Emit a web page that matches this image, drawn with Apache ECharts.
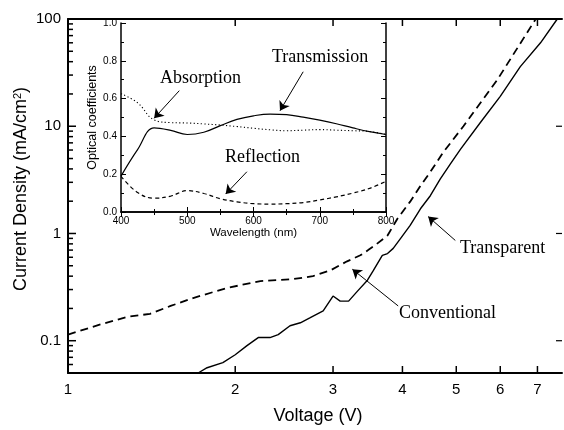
<!DOCTYPE html>
<html>
<head>
<meta charset="utf-8">
<script src="https://cdn.jsdelivr.net/npm/echarts@6/dist/echarts.min.js"></script>
<style>
  html, body { margin: 0; padding: 0; background: #fff; }
  #chart { width: 564px; height: 430px; }
</style>
</head>
<body>
<div id="chart"></div>
<script>
// main plot: J-V of the two devices (log-log)
var transparentV = [1.715, 1.78, 1.90, 2.0, 2.1, 2.2, 2.31, 2.39, 2.51, 2.62, 2.73, 2.88, 3.0, 3.09, 3.2, 3.32, 3.46, 3.54, 3.68, 3.76, 3.85, 3.97, 4.13, 4.31, 4.49, 4.68, 4.88, 5.09, 5.53, 6.0, 6.52, 7.09, 7.6];
var transparentJ = [0.05, 0.056, 0.0625, 0.074, 0.09, 0.107, 0.107, 0.114, 0.138, 0.147, 0.164, 0.19, 0.261, 0.234, 0.234, 0.29, 0.367, 0.445, 0.626, 0.65, 0.726, 0.90, 1.19, 1.70, 2.25, 3.23, 4.45, 6.12, 10.9, 19, 36, 60, 100];
var conventionalV = [1.0, 1.14, 1.28, 1.405, 1.53, 1.68, 1.93, 2.22, 2.54, 2.76, 2.97, 3.18, 3.36, 3.47, 3.57, 3.76, 3.92, 4.13, 4.31, 4.49, 4.74, 5.15, 5.93, 6.95];
var conventionalJ = [0.114, 0.141, 0.167, 0.178, 0.211, 0.25, 0.31, 0.36, 0.375, 0.40, 0.454, 0.55, 0.626, 0.70, 0.775, 0.958, 1.38, 1.98, 2.78, 3.75, 5.74, 10, 27.2, 100];

var xTickValues = [1, 2, 3, 4, 5, 6, 7];
var yMajorValues = [0.1, 1, 10, 100];
var yMajorLabels = ['0.1', '1', '10', '100'];

// inset: optical coefficients of the transparent device
var wavelength = [400, 425, 450, 475, 500, 525, 550, 575, 600, 625, 650, 675, 700, 725, 750, 775, 800];
var transmission = [0.19, 0.33, 0.445, 0.432, 0.41, 0.422, 0.457, 0.49, 0.509, 0.518, 0.515, 0.502, 0.486, 0.467, 0.445, 0.425, 0.41];
var absorption = [0.626, 0.578, 0.487, 0.473, 0.471, 0.466, 0.46, 0.452, 0.443, 0.435, 0.43, 0.433, 0.436, 0.433, 0.43, 0.426, 0.41];
var reflection = [0.189, 0.103, 0.073, 0.084, 0.113, 0.098, 0.07, 0.054, 0.044, 0.042, 0.044, 0.05, 0.064, 0.08, 0.1, 0.125, 0.162];

var V_MIN = 1, V_MAX = 7.75, J_MIN = 0.05, J_MAX = 100;

function zip(a, b) {
  return a.map(function (v, i) { return [v, b[i]]; });
}

// minor ticks of the log J axis: 2..9 in every decade
var yMinorValues = [];
[0.01, 0.1, 1, 10].forEach(function (d) {
  for (var k = 2; k <= 9; k++) {
    var v = k * d;
    if (v >= J_MIN - 1e-9 && v <= J_MAX) yMinorValues.push(v);
  }
});

function tickLine(x1, y1, x2, y2, w) {
  return { type: 'line', shape: { x1: x1, y1: y1, x2: x2, y2: y2 }, style: { stroke: '#000', lineWidth: w } };
}

// log V axis: ticks + labels at 1..7, bottom and top
function renderXTick(params, api) {
  var v = api.value(0);
  var b = api.coord([v, J_MIN]);
  var t = api.coord([v, J_MAX]);
  return {
    type: 'group',
    children: [
      tickLine(b[0], b[1], b[0], b[1] - 7, 1.5),
      tickLine(t[0], t[1], t[0], t[1] + 7, 1.5),
      { type: 'text', x: b[0], y: b[1] + 9, style: { text: String(v), font: '15px "Liberation Sans"', fill: '#000', align: 'center', verticalAlign: 'top' } }
    ]
  };
}

function renderYTick(params, api) {
  var v = api.value(1);
  var major = api.value(2) === 1;
  var l = api.coord([V_MIN, v]);
  var r = api.coord([V_MAX, v]);
  var children = [tickLine(l[0], l[1], l[0] + (major ? 8 : 5), l[1], 1.5)];
  if (major) children.push(tickLine(r[0], r[1], r[0] - 6, r[1], 1.2));
  return { type: 'group', children: children };
}

function arrow(from, to) {
  return [{ coord: from }, { coord: to }];
}
function marks(list) {
  return {
    silent: true,
    symbol: ['none', 'arrow'],
    symbolSize: 9,
    label: { show: false },
    lineStyle: { color: '#000', width: 1, type: 'solid' },
    emphasis: { disabled: true },
    animation: false,
    data: list
  };
}

var serif = '"Liberation Serif", "Times New Roman", serif';
var sans = '"Liberation Sans", Arial, sans-serif';

var chart = echarts.init(document.getElementById('chart'));
chart.setOption({
  animation: false,
  backgroundColor: '#fff',
  grid: [
    { left: 68, top: 19, width: 494, height: 357 },
    { left: 121, top: 23, width: 265, height: 189, show: true, backgroundColor: '#fff', borderWidth: 0 }
  ],
  xAxis: [
    {
      type: 'log', gridIndex: 0, min: V_MIN, max: V_MAX,
      axisLine: { lineStyle: { color: '#000', width: 2 } },
      axisTick: { show: false }, axisLabel: { show: false }, splitLine: { show: false },
      name: 'Voltage (V)', nameLocation: 'middle', nameGap: 34,
      nameTextStyle: { color: '#000', fontSize: 18, fontFamily: sans, padding: [0, 0, 0, 6] }
    },
    {
      type: 'log', gridIndex: 0, position: 'top', min: V_MIN, max: V_MAX,
      axisLine: { lineStyle: { color: '#000', width: 2 } },
      axisTick: { show: false }, axisLabel: { show: false }, splitLine: { show: false }
    },
    {
      type: 'value', gridIndex: 1, min: 400, max: 800, interval: 100,
      axisLine: { lineStyle: { color: '#000', width: 1.5 } },
      axisTick: { inside: true, length: 5, lineStyle: { color: '#000' } },
      minorTick: { show: true, splitNumber: 2, length: 3, lineStyle: { color: '#000' } },
      axisLabel: { color: '#000', fontSize: 10, fontFamily: sans, margin: 4 },
      splitLine: { show: false },
      name: 'Wavelength (nm)', nameLocation: 'middle', nameGap: 15,
      nameTextStyle: { color: '#000', fontSize: 11.5, fontFamily: sans }
    },
    {
      type: 'value', gridIndex: 1, position: 'top', min: 400, max: 800, interval: 100,
      axisLine: { lineStyle: { color: '#000', width: 1.5 } },
      axisTick: { inside: true, length: 5, lineStyle: { color: '#000' } },
      minorTick: { show: true, splitNumber: 2, length: 3, lineStyle: { color: '#000' } },
      axisLabel: { show: false }, splitLine: { show: false }
    }
  ],
  yAxis: [
    {
      type: 'log', gridIndex: 0, min: J_MIN, max: J_MAX,
      axisLine: { lineStyle: { color: '#000', width: 2 } },
      axisTick: { show: false }, splitLine: { show: false },
      axisLabel: {
        color: '#000', fontSize: 15, fontFamily: sans, margin: 7,
        formatter: function (v) {
          for (var i = 0; i < yMajorValues.length; i++) {
            if (Math.abs(Math.log10(v) - Math.log10(yMajorValues[i])) < 1e-6) return yMajorLabels[i];
          }
          return '';
        }
      },
      name: 'Current Density (mA/cm{sup|2})', nameLocation: 'middle', nameGap: 38,
      nameMoveOverlap: false,
      nameTextStyle: {
        color: '#000', fontSize: 18, fontFamily: sans, padding: [0, 0, 0, 14],
        rich: { sup: { fontSize: 11, fontFamily: sans, color: '#000', verticalAlign: 'top' } }
      }
    },
    {
      type: 'log', gridIndex: 0, position: 'right', min: J_MIN, max: J_MAX,
      axisLine: { show: false }, axisTick: { show: false }, axisLabel: { show: false }, splitLine: { show: false }
    },
    {
      type: 'value', gridIndex: 1, min: 0, max: 1, interval: 0.2,
      axisLine: { lineStyle: { color: '#000', width: 1.5 } },
      axisTick: { inside: true, length: 5, lineStyle: { color: '#000' } },
      minorTick: { show: true, splitNumber: 2, length: 3, lineStyle: { color: '#000' } },
      axisLabel: { color: '#000', fontSize: 10, fontFamily: sans, margin: 4, formatter: function (v) { return v.toFixed(1); } },
      splitLine: { show: false },
      name: 'Optical coefficients', nameLocation: 'middle', nameGap: 21,
      nameTextStyle: { color: '#000', fontSize: 12.5, fontFamily: sans }
    },
    {
      type: 'value', gridIndex: 1, position: 'right', min: 0, max: 1, interval: 0.2,
      axisLine: { lineStyle: { color: '#000', width: 1.5 } },
      axisTick: { inside: true, length: 5, lineStyle: { color: '#000' } },
      minorTick: { show: true, splitNumber: 2, length: 3, lineStyle: { color: '#000' } },
      axisLabel: { show: false }, splitLine: { show: false }
    }
  ],
  series: [
    {
      name: 'Transparent', type: 'line', xAxisIndex: 0, yAxisIndex: 0,
      data: zip(transparentV, transparentJ), showSymbol: false, silent: true,
      lineStyle: { color: '#000', width: 1.4 },
      markLine: marks([arrow([4.98, 0.861], [4.45, 1.437])])
    },
    {
      name: 'Conventional', type: 'line', xAxisIndex: 0, yAxisIndex: 0,
      data: zip(conventionalV, conventionalJ), showSymbol: false, silent: true,
      lineStyle: { color: '#000', width: 1.8, type: [8, 5] },
      markLine: marks([arrow([3.93, 0.211], [3.25, 0.464])])
    },
    {
      type: 'custom', xAxisIndex: 0, yAxisIndex: 0, silent: true, z: 10,
      data: xTickValues.map(function (v) { return [v, J_MIN]; }),
      renderItem: renderXTick
    },
    {
      type: 'custom', xAxisIndex: 0, yAxisIndex: 0, silent: true, z: 10,
      dimensions: ['x', 'y', 'major'],
      data: yMajorValues.map(function (v) { return [V_MIN, v, 1]; })
        .concat(yMinorValues.map(function (v) { return [V_MIN, v, 0]; })),
      renderItem: renderYTick
    },
    {
      name: 'Transmission', type: 'line', xAxisIndex: 2, yAxisIndex: 2,
      data: zip(wavelength, transmission), showSymbol: false, silent: true, smooth: 0.4,
      lineStyle: { color: '#000', width: 1.2 },
      markLine: marks([arrow([675, 0.742], [640, 0.536])])
    },
    {
      name: 'Absorption', type: 'line', xAxisIndex: 2, yAxisIndex: 2,
      data: zip(wavelength, absorption), showSymbol: false, silent: true, smooth: 0.4,
      lineStyle: { color: '#000', width: 1.1, type: [1.2, 2.4] },
      markLine: marks([arrow([488, 0.642], [450, 0.496])])
    },
    {
      name: 'Reflection', type: 'line', xAxisIndex: 2, yAxisIndex: 2,
      data: zip(wavelength, reflection), showSymbol: false, silent: true, smooth: 0.4,
      lineStyle: { color: '#000', width: 1.2, type: [4, 3] },
      markLine: marks([arrow([590, 0.213], [558, 0.095])])
    }
  ],
  graphic: [
    { type: 'text', x: 460, y: 248, style: { text: 'Transparent', font: '18px ' + serif, fill: '#000', verticalAlign: 'middle' } },
    { type: 'text', x: 399, y: 313, style: { text: 'Conventional', font: '18px ' + serif, fill: '#000', verticalAlign: 'middle' } },
    { type: 'text', x: 272, y: 57, style: { text: 'Transmission', font: '18px ' + serif, fill: '#000', verticalAlign: 'middle' } },
    { type: 'text', x: 160, y: 78, style: { text: 'Absorption', font: '18px ' + serif, fill: '#000', verticalAlign: 'middle' } },
    { type: 'text', x: 225, y: 157, style: { text: 'Reflection', font: '18px ' + serif, fill: '#000', verticalAlign: 'middle' } }
  ]
});
</script>
</body>
</html>
